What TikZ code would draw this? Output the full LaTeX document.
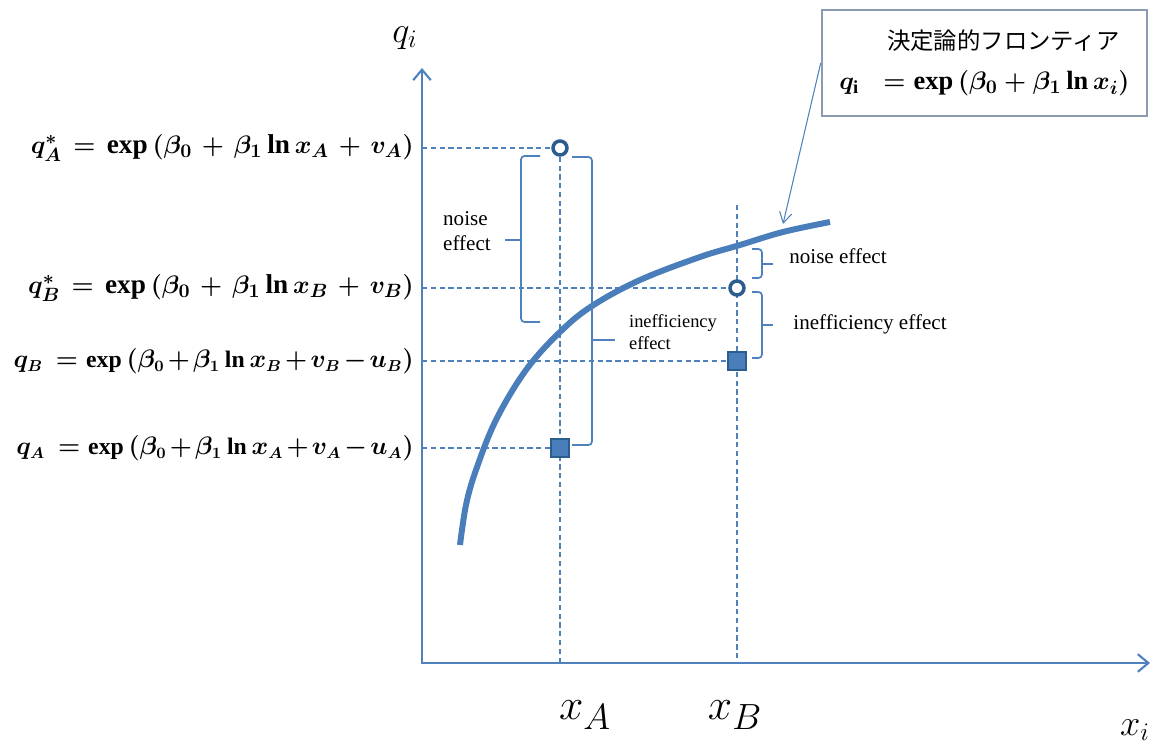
\documentclass[tikz,border=0pt]{standalone}
\usepackage{amsmath,amssymb}
\usepackage{fontspec}
\setmainfont{Liberation Serif}
\newfontfamily\cjk{Noto Sans CJK JP}
\usetikzlibrary{positioning, arrows.meta, calc}
\definecolor{axisblue}{HTML}{4F81BD}
\definecolor{curveblue}{HTML}{4A7EBB}
\definecolor{markblue}{HTML}{2C5D8F}
\definecolor{boxgray}{HTML}{8C9BB0}
\begin{document}
\begin{tikzpicture}[
  x=0.02cm, y=-0.02cm,
  ax/.style={axisblue, line width=1.2pt},
  guide/.style={axisblue, line width=0.6pt, dash pattern=on 3pt off 2pt},
  front/.style={curveblue, line width=3.4pt},
  obs/.style={circle, draw=markblue, fill=white, line width=2pt, minimum size=0.28cm, inner sep=0pt},
  est/.style={rectangle, draw=markblue, fill=curveblue, line width=0.8pt, minimum size=0.36cm, inner sep=0pt},
  brk/.style={axisblue, line width=1pt, rounded corners=2pt},
  eq/.style={anchor=east, font=\fontsize{15.5}{18}\selectfont\boldmath, inner sep=0pt},
  equ/.style={eq, font=\fontsize{13.5}{16}\selectfont\boldmath},
  lbl/.style={font=\fontsize{12}{14}\selectfont, align=left, inner sep=0pt},
  callbox/.style={draw=boxgray, line width=1.5pt, minimum width=6.5cm, minimum height=2.12cm, align=right, inner xsep=0.3cm, font=\fontsize{15}{23}\selectfont},
  pt/.style={-{Straight Barb[length=6pt,width=7pt]}, axisblue, line width=0.6pt},
]
  \useasboundingbox (0,0) rectangle (1154,749);
  \coordinate (o) at (422,663);
  \coordinate (ytop) at (422,68);
  \coordinate (xend) at (1150,663);
  \coordinate (pA) at (560,148);
  \coordinate (pB) at (737,288);
  \coordinate (rA) at (560,448);
  \coordinate (rB) at (737,361);
  \coordinate (vB) at (737,205);
  \coordinate (tip) at (783,224);

  \draw[ax, {Straight Barb[length=6pt,width=10pt]}-{Straight Barb[length=6pt,width=10pt]}] (ytop) -- (o) -- (xend);
  \draw[guide] (pA) -- (o -| pA);
  \draw[guide] (vB) -- (o -| vB);
  \draw[guide] (o |- pA) -- (pA);
  \draw[guide] (o |- pB) -- (pB);
  \draw[guide] (o |- rB) -- (rB);
  \draw[guide] (o |- rA) -- (rA);

  \draw[front] plot[smooth, tension=0.6] coordinates {(460,545) (466,505) (476,470) (496,420) (526,370) (560,332) (592,306) (640,280) (700,257) (740,245) (783,232) (830,222)};

  \node[obs] (cA) at (pA) {};
  \node[obs] (cB) at (pB) {};
  \node[est] (sA) at (rA) {};
  \node[est] (sB) at (rB) {};

  \draw[brk] (540,156) -- (521,156) -- (521,322) -- (540,322);
  \draw[brk] (521,240) -- (505,240);
  \draw[brk] (572,157) -- (592,157) -- (592,445) -- (572,445);
  \draw[brk] (592,340) -- (615,340);
  \draw[brk] (752,249) -- (762,249) -- (762,278) -- (752,278);
  \draw[brk] (762,264) -- (773,264);
  \draw[brk] (752,292) -- (762,292) -- (762,358) -- (752,358);
  \draw[brk] (762,325) -- (773,325);

  \node[lbl] (nA) at (467,231) {noise\\effect};
  \node[lbl, font=\fontsize{10.5}{12.5}\selectfont] (iA) at (673,332) {inefficiency\\effect};
  \node[lbl] (nB) at (838,256) {noise effect};
  \node[lbl] (iB) at (870,324) {inefficiency effect};

  \node[eq] (eqA) at ($(o |- pA)+(-8,0)$) {$\medmuskip=6mu\thickmuskip=7mu q_A^{*} = \exp\,(\beta_0+\beta_1\ln x_A+v_A)$};
  \node[eq] (eqB) at ($(o |- pB)+(-8,0)$) {$\medmuskip=6mu\thickmuskip=7mu q_B^{*} = \exp\,(\beta_0+\beta_1\ln x_B+v_B)$};
  \node[equ] (eqb) at ($(o |- rB)+(-8,0)$) {$\medmuskip=2mu q_B\, = \exp\,(\beta_0+\beta_1\ln x_B+v_B-u_B)$};
  \node[equ] (eqa) at ($(o |- rA)+(-8,0)$) {$\medmuskip=2mu q_A\, = \exp\,(\beta_0+\beta_1\ln x_A+v_A-u_A)$};

  \node[callbox] (box) at (984.5,63) {{\cjk\fontsize{13.3}{20}\selectfont 決定論的フロンティア}\kern0.2cm\\
    {\boldmath$q_{\mathrm{i}}\;\; = \exp\,(\beta_0+\beta_1\ln x_i)$}};
  \draw[pt] (box.west) -- (tip);

  \node[font=\fontsize{22}{26}\selectfont] (qlab) at (405,38) {$q_i$};
  \node[font=\fontsize{22}{26}\selectfont] (xlab) at (1135,730) {$x_i$};
  \node[font=\fontsize{31}{35}\selectfont] (xA) at (585,715) {$x_A$};
  \node[font=\fontsize{31}{35}\selectfont] (xB) at (735,715) {$x_B$};
\end{tikzpicture}
\end{document}
